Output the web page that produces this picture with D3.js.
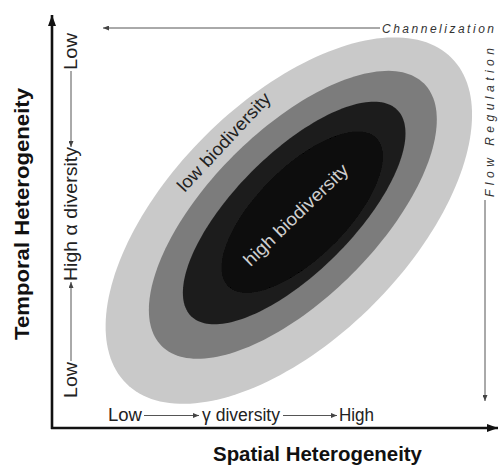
<!DOCTYPE html>
<html>
<head>
<meta charset="utf-8">
<script src="https://cdn.jsdelivr.net/npm/d3@7"></script>
<style>
  html, body { margin: 0; padding: 0; background: #fff; }
  svg { display: block; }
  text { font-family: "Liberation Sans", Arial, Helvetica, sans-serif; }
</style>
</head>
<body>
<div id="chart"></div>
<script>
// ---- data ----
const rings      = ["outer", "middle", "inner", "core"];
const ringCx     = [53.1, 54.0, 54.3, 56.1];   // spatial heterogeneity (0-100)
const ringCy     = [46.5, 47.8, 48.2, 48.4];   // temporal heterogeneity (0-100)
const ringMajor  = [51.6, 41.6, 32.7, 23.5];
const ringMinor  = [26.7, 18.8, 13.3, 10.1];
const ringAngle  = [45, 45, 45, 45];
const ringFill   = ["#c9c9c9", "#7c7c7c", "#1f1f1f", "#070707"];

const xAxisTitle = "Spatial Heterogeneity";
const yAxisTitle = "Temporal Heterogeneity";
const xScaleLabels = ["Low", "γ diversity", "High"];
const yScaleLabels = ["Low", "High α diversity", "Low"];
const zoneLabels = ["low biodiversity", "high biodiversity"];
const pressureLabels = ["Channelization", "Flow Regulation"];

// ---- layout ----
const W = 500, H = 466;
const x0 = 52, x1 = 498, y0 = 428;
const k = (x1 - x0) / 100;
const x = d3.scaleLinear().domain([0, 100]).range([x0, x1]);
const y = d3.scaleLinear().domain([0, 100]).range([y0, y0 - 100 * k]);

const svg = d3.select("#chart").append("svg").attr("width", W).attr("height", H);
const defs = svg.append("defs");
defs.append("filter").attr("id", "soft")
  .append("feGaussianBlur").attr("stdDeviation", 0.7);

function marker(id, color, w, h) {
  defs.append("marker").attr("id", id)
    .attr("viewBox", `0 0 ${w} ${h}`).attr("refX", w).attr("refY", h / 2)
    .attr("markerWidth", w).attr("markerHeight", h)
    .attr("markerUnits", "userSpaceOnUse").attr("orient", "auto")
    .append("path").attr("d", `M0,0L${w},${h/2}L0,${h}Z`).attr("fill", color);
}
marker("axisArrow", "#111", 11, 8);
marker("thinArrow", "#444", 6, 5);

// ---- ellipses ----
const line = d3.line().x(d => d[0]).y(d => d[1]).curve(d3.curveLinearClosed);
const ts = d3.range(0, 360, 2).map(t => t * Math.PI / 180);
const ringData = rings.map((r, i) => {
  const th = ringAngle[i] * Math.PI / 180;
  return ts.map(t => {
    const dx = ringMajor[i] * Math.cos(t) * Math.cos(th) - ringMinor[i] * Math.sin(t) * Math.sin(th);
    const dy = ringMajor[i] * Math.cos(t) * Math.sin(th) + ringMinor[i] * Math.sin(t) * Math.cos(th);
    return [x(ringCx[i] + dx), y(ringCy[i] + dy)];
  });
});
svg.append("g").attr("filter", "url(#soft)")
  .selectAll("path").data(ringData).join("path")
  .attr("d", line).attr("fill", (d, i) => ringFill[i]);

// ---- zone labels ----
svg.append("text")
  .attr("transform", "translate(224,142) rotate(-47)")
  .attr("text-anchor", "middle").attr("dominant-baseline", "central")
  .attr("font-size", 18).attr("fill", "#222")
  .attr("textLength", 128).attr("lengthAdjust", "spacingAndGlyphs")
  .text(zoneLabels[0]);
svg.append("text")
  .attr("transform", "translate(296,215) rotate(-44)")
  .attr("text-anchor", "middle").attr("dominant-baseline", "central")
  .attr("font-size", 18).attr("fill", "#cfcfcf")
  .attr("textLength", 138).attr("lengthAdjust", "spacingAndGlyphs")
  .text(zoneLabels[1]);

// ---- main axes ----
svg.append("line").attr("x1", x0).attr("y1", y0 + 1).attr("x2", x0).attr("y2", 15)
  .attr("stroke", "#111").attr("stroke-width", 2.6).attr("marker-end", "url(#axisArrow)");
svg.append("line").attr("x1", x0 - 1).attr("y1", y0).attr("x2", x1).attr("y2", y0)
  .attr("stroke", "#111").attr("stroke-width", 2.6).attr("marker-end", "url(#axisArrow)");

// axis titles
svg.append("text").attr("x", 317.5).attr("y", 461)
  .attr("text-anchor", "middle").attr("font-weight", "bold").attr("font-size", 20).attr("fill", "#111")
  .attr("textLength", 209).attr("lengthAdjust", "spacingAndGlyphs")
  .text(xAxisTitle);
svg.append("text").attr("transform", "translate(29,214) rotate(-90)")
  .attr("text-anchor", "middle").attr("font-weight", "bold").attr("font-size", 20).attr("fill", "#111")
  .attr("textLength", 252).attr("lengthAdjust", "spacingAndGlyphs")
  .text(yAxisTitle);

// ---- x scale labels (Low -> γ diversity -> High) ----
const gx = svg.append("g").attr("font-size", 18).attr("fill", "#222");
gx.append("text").attr("x", 108).attr("y", 421).attr("textLength", 34).attr("lengthAdjust", "spacingAndGlyphs").text(xScaleLabels[0]);
gx.append("text").attr("x", 202).attr("y", 421).attr("textLength", 78).attr("lengthAdjust", "spacingAndGlyphs").text(xScaleLabels[1]);
gx.append("text").attr("x", 339).attr("y", 421).attr("textLength", 35).attr("lengthAdjust", "spacingAndGlyphs").text(xScaleLabels[2]);
[[144, 199], [283, 337]].forEach(([a, b]) => {
  svg.append("line").attr("x1", a).attr("x2", b).attr("y1", 415.5).attr("y2", 415.5)
    .attr("stroke", "#555").attr("stroke-width", 1).attr("marker-end", "url(#thinArrow)");
});

// ---- y scale labels (Low -> High α diversity <- Low) ----
const gy = svg.append("g").attr("font-size", 18).attr("fill", "#222");
gy.append("text").attr("transform", "translate(77,398) rotate(-90)").attr("textLength", 36).attr("lengthAdjust", "spacingAndGlyphs").text(yScaleLabels[0]);
gy.append("text").attr("transform", "translate(77,281) rotate(-90)").attr("textLength", 134).attr("lengthAdjust", "spacingAndGlyphs").text(yScaleLabels[1]);
gy.append("text").attr("transform", "translate(77,70) rotate(-90)").attr("textLength", 37).attr("lengthAdjust", "spacingAndGlyphs").text(yScaleLabels[2]);
svg.append("line").attr("x1", 71).attr("x2", 71).attr("y1", 361).attr("y2", 282)
  .attr("stroke", "#555").attr("stroke-width", 1).attr("marker-end", "url(#thinArrow)");
svg.append("line").attr("x1", 71).attr("x2", 71).attr("y1", 71).attr("y2", 147)
  .attr("stroke", "#555").attr("stroke-width", 1).attr("marker-end", "url(#thinArrow)");

// ---- pressures ----
svg.append("text").attr("x", 382).attr("y", 33)
  .attr("font-size", 12).attr("font-style", "italic").attr("fill", "#333")
  .attr("textLength", 112).attr("lengthAdjust", "spacing")
  .text(pressureLabels[0]);
svg.append("line").attr("x1", 380).attr("x2", 103).attr("y1", 28).attr("y2", 28)
  .attr("stroke", "#555").attr("stroke-width", 1).attr("marker-end", "url(#thinArrow)");

svg.append("text").attr("transform", "translate(494,197) rotate(-90)")
  .attr("font-size", 12).attr("font-style", "italic").attr("fill", "#333")
  .attr("textLength", 149).attr("lengthAdjust", "spacing")
  .text(pressureLabels[1]);
svg.append("line").attr("x1", 485).attr("x2", 485).attr("y1", 200).attr("y2", 401)
  .attr("stroke", "#555").attr("stroke-width", 1).attr("marker-end", "url(#thinArrow)");
</script>
</body>
</html>
